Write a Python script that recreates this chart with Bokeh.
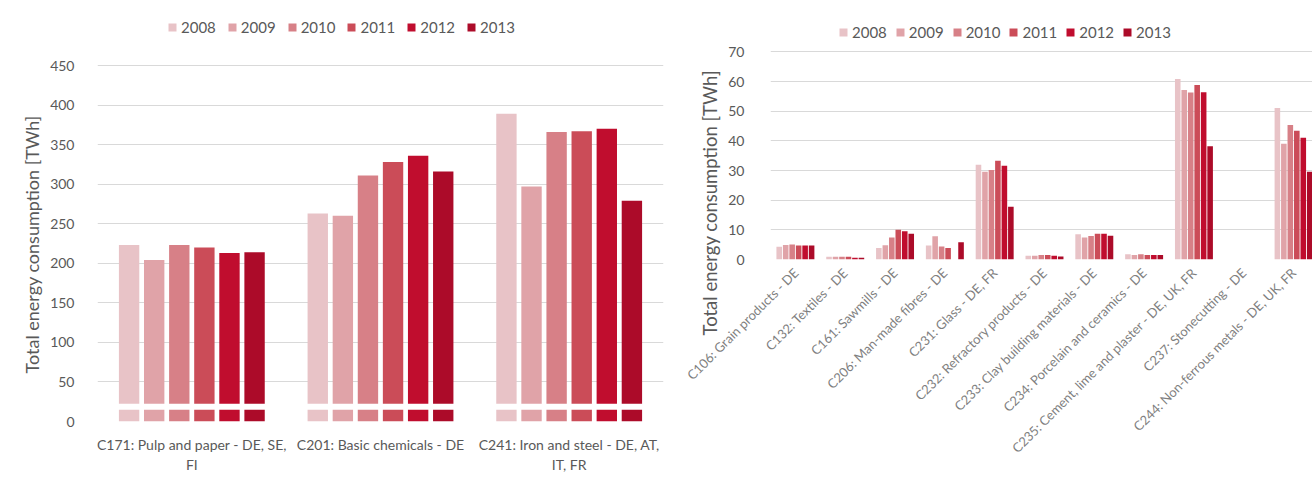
import numpy as np
from bokeh.plotting import figure
from bokeh.layouts import row
from bokeh.models import FixedTicker, Legend, LegendItem, ColumnDataSource, Range1d, Title
from bokeh.embed import file_html
from bokeh.resources import INLINE

# ---------------- data ----------------
years = ["2008", "2009", "2010", "2011", "2012", "2013"]
colors = ["#E8C3C7", "#E0A3A8", "#D78087", "#CB4C58", "#C00D2E", "#AC0B29"]

left_categories = [
    "C171: Pulp and paper - DE, SE,\nFI",
    "C201: Basic chemicals - DE",
    "C241: Iron and steel - DE, AT,\nIT, FR",
]
left_2008 = [223, 263, 389]
left_2009 = [204, 260, 297]
left_2010 = [223, 311, 366]
left_2011 = [220, 328, 367]
left_2012 = [213, 336, 370]
left_2013 = [214, 316, 279]
left_ticks = [0, 50, 100, 150, 200, 250, 300, 350, 400, 450]

right_categories = [
    "C106: Grain products - DE",
    "C132: Textiles - DE",
    "C161: Sawmills - DE",
    "C206: Man-made fibres - DE",
    "C231: Glass - DE, FR",
    "C232: Refractory products - DE",
    "C233: Clay building materials - DE",
    "C234: Porcelain and ceramics - DE",
    "C235: Cement, lime and plaster - DE, UK, FR",
    "C237: Stonecutting - DE",
    "C244: Non-ferrous metals - DE, UK, FR",
]
nan = float("nan")
right_2008 = [4.3, 0.9, 3.9, 4.7, 32.0, 1.3, 8.5, 1.8, 60.9, nan, 51.1]
right_2009 = [4.9, 0.9, 4.8, 7.8, 29.6, 1.3, 7.4, 1.5, 57.2, nan, 39.0]
right_2010 = [5.1, 0.9, 7.4, 4.4, 30.2, 1.5, 7.9, 1.8, 56.3, nan, 45.4]
right_2011 = [4.7, 0.9, 10.0, 3.9, 33.3, 1.5, 8.7, 1.5, 58.9, nan, 43.4]
right_2012 = [4.7, 0.6, 9.5, nan, 31.6, 1.3, 8.7, 1.5, 56.4, nan, 41.1]
right_2013 = [4.7, 0.6, 8.7, 5.8, 17.8, 1.0, 8.0, 1.5, 38.2, nan, 29.6]
right_ticks = [0, 10, 20, 30, 40, 50, 60, 70]

y_title = "Total energy consumption [TWh]"

FONT = "Lato"
GRID = "#D9D9D9"
TXT = "#595959"


def style(p, ticks, tick_size):
    p.xgrid.grid_line_color = None
    p.ygrid.grid_line_color = GRID
    p.ygrid.grid_line_width = 1
    p.outline_line_color = None
    p.yaxis.ticker = FixedTicker(ticks=ticks)
    for ax in (p.xaxis[0], p.yaxis[0]):
        ax.axis_line_color = None
        ax.major_tick_line_color = None
        ax.minor_tick_line_color = None
        ax.major_label_text_font = FONT
        ax.major_label_text_color = TXT
    p.yaxis.major_label_text_font_size = tick_size
    p.background_fill_color = "white"
    p.border_fill_color = "white"


def add_title(p, size, offset):
    t = Title(text=y_title, align="left", offset=offset, text_font=FONT,
              text_font_size=size, text_font_style="normal", text_color=TXT)
    p.add_layout(t, "left")


def add_bars(p, values_by_year, step, width):
    renderers = []
    for j, (yr, col, vals) in enumerate(zip(years, colors, values_by_year)):
        n = len(vals)
        xs = np.arange(n) + 0.5 + (j - 2.5) * step
        src = ColumnDataSource(dict(x=xs, top=np.array(vals, dtype=float)))
        r = p.vbar(x="x", top="top", bottom=0, width=width, source=src,
                   fill_color=col, line_color=None)
        renderers.append(LegendItem(label=yr, renderers=[r]))
    return renderers


def add_legend(p, items, loc, spacing, size):
    lg = Legend(items=items, orientation="horizontal", location=loc,
                label_text_font=FONT, label_text_font_size=size,
                label_text_color=TXT, glyph_width=10, glyph_height=10,
                label_standoff=4, spacing=spacing, padding=0, margin=0,
                label_height=14,
                border_line_color=None, background_fill_alpha=0)
    p.add_layout(lg, "center")


# ---------------- left chart ----------------
left = figure(width=683, height=475, output_backend="svg", toolbar_location=None,
              x_range=Range1d(0, len(left_categories)), y_range=Range1d(0, 517),
              min_border_left=97, min_border_right=20, min_border_top=12,
              min_border_bottom=54, frame_align=False)
style(left, left_ticks, "14px")
items_l = add_bars(left, [left_2008, left_2009, left_2010, left_2011, left_2012, left_2013],
                   0.133, 0.108)
# axis-break band
left.quad(left=0, right=len(left_categories), bottom=15, top=22.5,
          fill_color="white", line_color=None)
left.xaxis.ticker = FixedTicker(ticks=[i + 0.5 for i in range(len(left_categories))])
left.xaxis.major_label_overrides = {i + 0.5: c for i, c in enumerate(left_categories)}
left.xaxis.major_label_text_font_size = "14px"
left.xaxis.major_label_standoff = 8
left.yaxis.major_label_standoff = 17
add_title(left, "18px", 48)
add_legend(left, items_l, (70, 385), 11, "15px")

# ---------------- right chart ----------------
right = figure(width=629, height=475, output_backend="svg", toolbar_location=None,
               x_range=Range1d(0, 10.88), y_range=Range1d(0, 82.3),
               min_border_left=87, min_border_right=0, min_border_top=15,
               min_border_bottom=216, frame_align=False)
style(right, right_ticks, "14px")
items_r = add_bars(right, [right_2008, right_2009, right_2010, right_2011, right_2012, right_2013],
                   0.13, 0.112)
right.xaxis.ticker = FixedTicker(ticks=[i + 0.5 for i in range(len(right_categories))])
right.xaxis.major_label_overrides = {i + 0.5: c for i, c in enumerate(right_categories)}
right.xaxis.major_label_orientation = np.pi / 4
right.xaxis.major_label_text_font_size = "13px"
right.xaxis.major_label_text_color = "#7F7F7F"
right.yaxis.major_label_standoff = 20
add_title(right, "18.5px", -76)
add_legend(right, items_r, (68, 218), 8, "15px")

layout = row(left, right)
open("out.html", "w").write(file_html(layout, INLINE))
